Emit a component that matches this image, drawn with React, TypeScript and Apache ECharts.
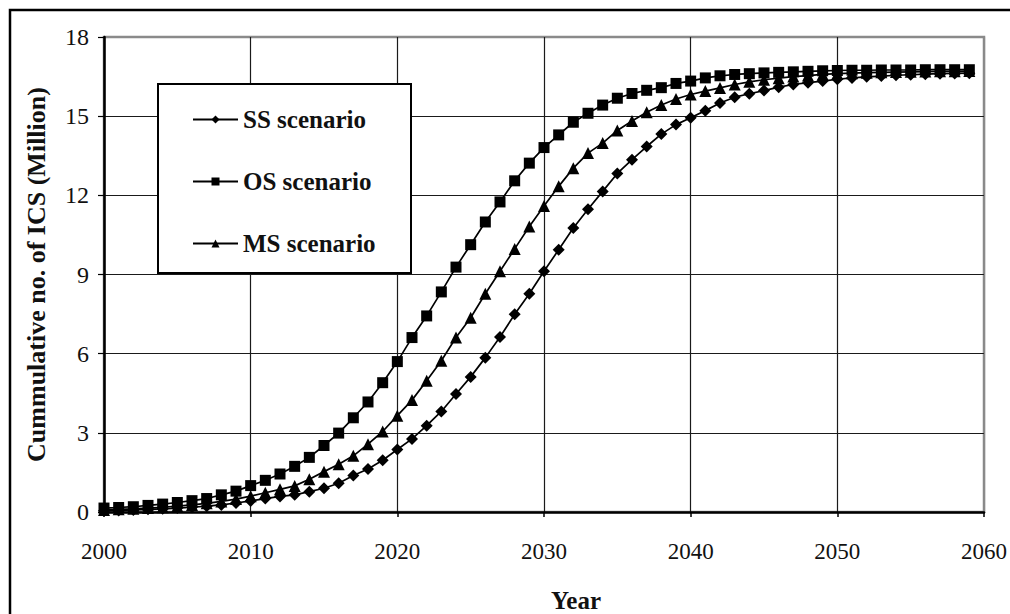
import React, { useEffect, useRef } from "react";
import * as echarts from "echarts";

const years = [
  2000, 2001, 2002, 2003, 2004, 2005, 2006, 2007, 2008, 2009,
  2010, 2011, 2012, 2013, 2014, 2015, 2016, 2017, 2018, 2019,
  2020, 2021, 2022, 2023, 2024, 2025, 2026, 2027, 2028, 2029,
  2030, 2031, 2032, 2033, 2034, 2035, 2036, 2037, 2038, 2039,
  2040, 2041, 2042, 2043, 2044, 2045, 2046, 2047, 2048, 2049,
  2050, 2051, 2052, 2053, 2054, 2055, 2056, 2057, 2058, 2059,
];

const ssValues = [
  0.05, 0.06, 0.08, 0.1, 0.12, 0.15, 0.18, 0.22, 0.27, 0.34,
  0.42, 0.51, 0.59, 0.65, 0.77, 0.9, 1.09, 1.38, 1.63, 1.96,
  2.37, 2.77, 3.27, 3.81, 4.47, 5.12, 5.85, 6.63, 7.49, 8.27,
  9.12, 9.94, 10.76, 11.47, 12.15, 12.83, 13.35, 13.85, 14.32, 14.68,
  14.94, 15.21, 15.5, 15.72, 15.85, 15.97, 16.1, 16.2, 16.27, 16.33,
  16.4, 16.45, 16.49, 16.52, 16.55, 16.57, 16.59, 16.61, 16.62, 16.63,
];

const osValues = [
  0.15, 0.17, 0.2, 0.25, 0.3, 0.36, 0.43, 0.51, 0.65, 0.79,
  1.0, 1.2, 1.44, 1.73, 2.07, 2.52, 2.99, 3.57, 4.17, 4.9,
  5.7, 6.61, 7.43, 8.34, 9.28, 10.13, 10.99, 11.75, 12.55, 13.22,
  13.81, 14.29, 14.77, 15.11, 15.42, 15.68, 15.86, 15.98, 16.08, 16.24,
  16.33, 16.45, 16.53, 16.58, 16.61, 16.64, 16.66, 16.68, 16.7, 16.72,
  16.73, 16.74, 16.74, 16.75, 16.75, 16.75, 16.76, 16.76, 16.76, 16.76,
];

const msValues = [
  0.08, 0.1, 0.12, 0.15, 0.18, 0.22, 0.27, 0.33, 0.4, 0.49,
  0.6, 0.73, 0.86, 0.99, 1.24, 1.53, 1.81, 2.13, 2.57, 3.05,
  3.65, 4.24, 4.97, 5.73, 6.61, 7.36, 8.27, 9.12, 9.97, 10.82,
  11.6, 12.34, 13.03, 13.6, 13.98, 14.46, 14.82, 15.15, 15.42, 15.65,
  15.82, 15.95, 16.07, 16.2, 16.3, 16.38, 16.44, 16.5, 16.54, 16.58,
  16.61, 16.63, 16.65, 16.66, 16.67, 16.68, 16.69, 16.7, 16.7, 16.71,
];

const seriesNames = ["SS scenario", "OS scenario", "MS scenario"];
const xTickRange = { min: 2000, max: 2060, interval: 10 };
const yTickRange = { min: 0, max: 18, interval: 3 };

const FONT = '"Liberation Serif", "Times New Roman", serif';

function pairs(values: number[]) {
  return years.map((y, i) => [y, values[i]]);
}

export default function App() {
  const ref = useRef<HTMLDivElement>(null);

  useEffect(() => {
    if (!ref.current) return;
    const chart = echarts.init(ref.current, undefined, { renderer: "svg" });
    const gridCol = "#1a1a1a";
    const borderCol = "#8a8a8a";
    const lineColors = [gridCol, gridCol, gridCol, gridCol, gridCol, gridCol, borderCol];

    const makeSeries = (name: string, values: number[], symbol: string, size: number) => ({
      name,
      type: "line",
      data: pairs(values),
      symbol,
      symbolSize: size,
      showSymbol: true,
      lineStyle: { color: "#000", width: 1.7 },
      itemStyle: { color: "#000" },
      z: 2,
    });

    chart.setOption({
      animation: false,
      backgroundColor: "#ffffff",
      textStyle: { fontFamily: FONT },
      grid: {
        left: 104,
        right: 25,
        top: 37,
        bottom: 102,
        show: true,
        borderColor: borderCol,
        borderWidth: 2.5,
        backgroundColor: "transparent",
      },
      xAxis: {
        type: "value",
        min: xTickRange.min,
        max: xTickRange.max,
        interval: xTickRange.interval,
        axisLine: { show: true, onZero: false, lineStyle: { color: "#000", width: 2.5 } },
        axisTick: { show: true, length: 5, lineStyle: { color: "#000", width: 1.5 } },
        axisLabel: {
          color: "#111",
          fontSize: 23,
          margin: 28,
          fontFamily: FONT,
          formatter: (v: number) => String(v),
        },
        splitLine: { show: true, lineStyle: { color: lineColors, width: 1.2 } },
      },
      yAxis: {
        type: "value",
        min: yTickRange.min,
        max: yTickRange.max,
        interval: yTickRange.interval,
        name: "Cummulative no. of ICS (Million)",
        nameLocation: "middle",
        nameGap: 55,
        nameTextStyle: { fontSize: 26, fontWeight: "bold", color: "#111", fontFamily: FONT },
        axisLine: { show: true, lineStyle: { color: "#000", width: 2.5 } },
        axisTick: { show: true, length: 6, lineStyle: { color: "#000", width: 1.2 } },
        axisLabel: { color: "#111", fontSize: 24, margin: 15, fontFamily: FONT },
        splitLine: { show: true, lineStyle: { color: lineColors, width: 1.2 } },
      },
      legend: {
        orient: "vertical",
        left: 192,
        top: 107,
        itemWidth: 45,
        itemHeight: 10,
        itemGap: 37,
        padding: 0,
        z: 10,
        textStyle: { fontSize: 25, fontWeight: "bold", color: "#111", fontFamily: FONT },
        data: seriesNames,
      },
      graphic: [
        {
          type: "rect",
          z: 0,
          silent: true,
          shape: { x: 10, y: 10, width: 1030, height: 640 },
          style: { fill: "none", stroke: "#000", lineWidth: 2.5 },
        },
        {
          type: "rect",
          z: 5,
          silent: true,
          shape: { x: 158, y: 84, width: 253, height: 189 },
          style: { fill: "#fff", stroke: "#000", lineWidth: 2 },
        },
        {
          type: "text",
          x: 576,
          y: 600,
          silent: true,
          style: {
            text: "Year",
            fontSize: 25,
            fontWeight: "bold",
            fontFamily: FONT,
            fill: "#111",
            textAlign: "center",
            textVerticalAlign: "middle",
          },
        },
      ],
      series: [
        makeSeries(seriesNames[0], ssValues, "diamond", 12),
        makeSeries(seriesNames[1], osValues, "rect", 11),
        makeSeries(seriesNames[2], msValues, "triangle", 12),
      ],
    });
    return () => chart.dispose();
  }, []);

  return (
    <div
      ref={ref}
      style={{ position: "absolute", left: 0, top: 0, width: 1010, height: 614 }}
    />
  );
}
